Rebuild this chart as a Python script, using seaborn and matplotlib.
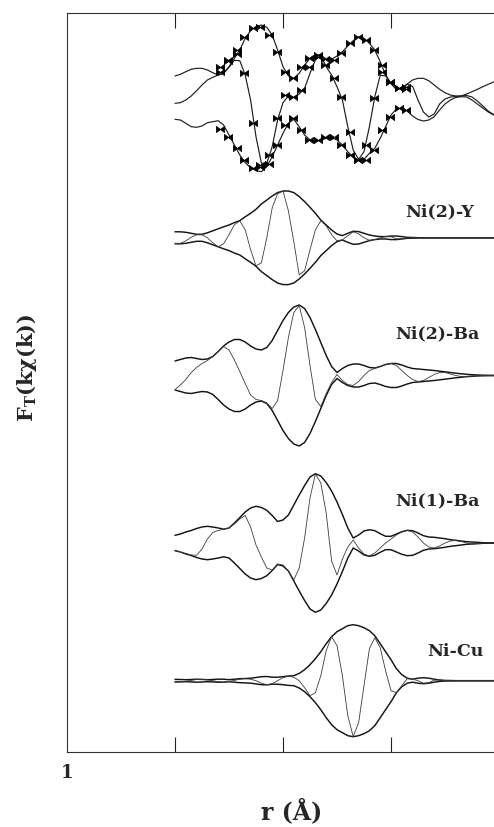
import numpy as np
import matplotlib
matplotlib.use("Agg")
import matplotlib.pyplot as plt
from matplotlib.path import Path
import seaborn as sns

# ---------------- data (r in Angstrom, amplitudes in arbitrary units) ----------------
r_grid = [2.00, 2.05, 2.10, 2.15, 2.20, 2.25, 2.30, 2.35, 2.40, 2.45,
          2.50, 2.55, 2.60, 2.65, 2.70, 2.75, 2.80, 2.85, 2.90, 2.95,
          3.00, 3.05, 3.10, 3.15, 3.20, 3.25, 3.30, 3.35, 3.40, 3.45,
          3.50, 3.55, 3.60, 3.65, 3.70, 3.75, 3.80, 3.85, 3.90, 3.95,
          4.00, 4.05, 4.10, 4.15, 4.20, 4.25, 4.30, 4.35, 4.40, 4.45,
          4.50, 4.55, 4.60, 4.65, 4.70, 4.75, 4.80, 4.85, 4.90, 4.95,
          5.00]

panel_names = ["", "Ni(2)-Y", "Ni(2)-Ba", "Ni(1)-Ba", "Ni-Cu"]
panel_offsets = [653.7, 514.2, 376.5, 209.0, 71.3]

# top panel (fit curves)
top_upper = [22.3, 24.0, 26.6, 29.0, 30.0, 30.0, 28.3, 25.6, 23.3, 25.0,
             31.6, 40.0, 48.3, 60.0, 67.6, 71.6, 73.3, 71.0, 63.3, 48.3,
             31.6, 22.3, 20.0, 25.0, 33.3, 40.0, 43.0, 43.6, 39.0, 39.0,
             42.3, 46.6, 52.3, 57.6, 61.6, 60.0, 55.0, 48.3, 36.6, 23.3,
             15.0, 9.0, 10.0, 14.3, 18.3, 20.0, 20.0, 17.6, 13.3, 9.0,
             5.6, 3.3, 2.3, 2.3, 4.3, 6.6, 9.0, 11.6, 14.0, 16.3,
             18.3]
top_middle = [-5.0, -4.4, -1.7, 2.3, 7.6, 13.3, 18.3, 21.0, 23.3, 25.0,
              31.0, 38.0, 37.6, 23.3, -1.7, -38.4, -65.0, -65.0, -48.4, -21.7,
              -4.4, 2.3, 1.0, 4.3, 10.0, 25.0, 38.3, 43.0, 31.6, 23.3,
              11.6, -1.7, -28.4, -51.7, -61.0, -53.4, -28.4, 1.6, 23.0, 22.5,
              14.5, 9.0, 10.0, 14.0, 12.0, -1.7, -13.7, -18.7, -15.7, -5.7,
              -0.7, 1.3, 1.8, 2.3, 2.8, 1.3, -2.7, -7.7, -12.7, -16.2,
              -18.7]
top_lower = [-21.0, -21.7, -25.0, -28.4, -29.0, -27.7, -24.4, -23.4, -22.4, -26.7,
             -36.7, -46.7, -56.7, -64.4, -69.4, -72.4, -73.4, -68.4, -58.4, -46.7,
             -35.0, -25.0, -21.0, -28.4, -36.7, -41.7, -43.4, -41.7, -40.0, -39.4,
             -41.7, -46.7, -53.4, -59.0, -61.7, -61.0, -55.0, -50.0, -40.0, -28.4,
             -16.7, -10.7, -9.7, -12.7, -17.7, -21.2, -22.7, -21.7, -18.4, -11.7,
             -5.7, -1.7, 0.8, 1.6, 1.3, -1.7, -5.7, -9.7, -13.7, -16.7,
             -18.7]

# top panel (experimental points)
r_points = [2.42, 2.49, 2.57, 2.64, 2.72, 2.79, 2.87, 2.94, 3.02, 3.09, 3.17, 3.24,
            3.32, 3.39, 3.47, 3.54, 3.62, 3.69, 3.77, 3.84, 3.92, 3.99, 4.07, 4.14]
pts_upper = [31.6, 38.3, 48.3, 61.6, 70.0, 71.6, 63.3, 46.6, 26.6, 20.0, 31.6, 40.0,
             43.3, 39.0, 38.3, 45.0, 55.0, 61.0, 58.3, 48.3, 33.3, 16.6, 10.0, 9.0]
pts_middle = [26.6, 37.0, 44.0, 25.0, -25.0, -66.7, -56.7, -20.0, 3.3, 1.0, 8.3, 31.6,
              41.6, 33.0, 20.0, 1.6, -33.4, -61.7, -46.7, 0.0, 26.6, 16.0, 10.0, 11.0]
pts_lower = [-31.0, -38.4, -49.4, -61.7, -70.0, -69.0, -66.0, -47.0, -26.7, -20.0, -31.7, -41.7,
             -41.7, -39.0, -39.0, -46.7, -56.7, -61.7, -61.7, -51.7, -31.7, -18.4, -10.0, -11.7]

# Ni(2)-Y
niy_env = [6.0, 6.0, 5.5, 4.5, 3.5, 3.5, 5.0, 7.0, 9.0, 11.0,
           12.8, 15.2, 17.2, 21.0, 24.5, 28.5, 33.8, 37.8, 41.8, 45.2,
           46.8, 46.8, 45.2, 41.2, 36.2, 30.5, 24.5, 17.8, 12.8, 7.8,
           3.8, 2.2, 4.5, 6.5, 6.2, 4.5, 2.8, 1.8, 1.2, 1.2,
           1.8, 1.8, 1.2, 0.5, 0.3, 0.1, 0.0, 0.0, 0.0, 0.0,
           0.0, 0.0, 0.0, 0.0, 0.0, 0.0, 0.0, 0.0, 0.0, 0.0,
           0.0]
niy_osc = [-5.5, -5.5, -3.0, 0.5, 3.0, 3.0, 0.0, -5.0, -9.0, -6.0,
           3.0, 13.0, 17.0, 8.0, -12.0, -28.0, -25.0, 0.0, 30.0, 44.0,
           46.8, 27.0, -4.0, -37.0, -33.0, -12.0, 8.0, 17.0, 12.0, 3.0,
           -3.0, -2.0, 2.0, 6.0, 4.0, 0.0, -2.5, -1.8, 0.0, 1.2,
           1.0, -1.0, -1.0, 0.0, 0.0, 0.0, 0.0, 0.0, 0.0, 0.0,
           0.0, 0.0, 0.0, 0.0, 0.0, 0.0, 0.0, 0.0, 0.0, 0.0,
           0.0]

# Ni(2)-Ba
ni2ba_env = [14.5, 16.0, 17.5, 18.0, 17.0, 16.0, 16.5, 19.0, 24.0, 29.5,
             33.5, 36.0, 36.0, 33.5, 29.5, 26.5, 25.5, 28.0, 35.0, 45.0,
             55.0, 63.0, 68.5, 70.5, 67.0, 58.0, 46.0, 33.0, 20.0, 9.0,
             3.0, 7.0, 10.0, 11.5, 11.5, 10.0, 8.0, 7.5, 9.0, 11.0,
             12.0, 12.0, 10.5, 8.5, 7.0, 6.5, 6.0, 5.5, 5.0, 4.3,
             3.7, 3.0, 2.3, 1.7, 1.2, 0.8, 0.5, 0.3, 0.2, 0.1,
             0.0]
ni2ba_osc = [-14.0, -9.5, -4.0, 3.0, 8.0, 12.0, 15.0, 19.0, 24.0, 29.0,
             25.5, 15.5, 4.0, -8.0, -19.5, -24.0, -25.0, -27.5, -33.0, -25.0,
             5.0, 38.0, 63.0, 70.0, 48.0, 10.0, -24.0, -31.0, -18.0, -7.0,
             1.0, -5.0, -9.0, -10.0, -6.0, 0.0, 5.0, 7.0, 9.0, 11.0,
             12.0, 10.0, 5.0, 0.0, -4.0, -6.0, -5.0, -2.0, 1.0, 3.0,
             3.0, 1.5, 0.0, -1.0, -1.0, -0.5, 0.0, 0.0, 0.0, 0.0,
             0.0]

# Ni(1)-Ba
ni1ba_env = [7.7, 9.0, 11.0, 12.5, 14.5, 16.0, 16.7, 16.0, 15.0, 13.8,
             15.0, 20.0, 25.5, 31.0, 35.0, 36.7, 35.5, 32.7, 27.5, 21.5,
             23.0, 28.0, 38.0, 48.0, 57.5, 66.0, 69.3, 67.0, 60.5, 52.0,
             41.0, 28.5, 15.0, 5.0, 8.0, 12.0, 13.3, 12.3, 9.3, 6.7,
             6.7, 9.0, 11.3, 12.7, 12.3, 10.0, 7.3, 6.0, 5.7, 5.0,
             4.3, 3.3, 2.7, 2.0, 1.3, 1.0, 0.7, 0.3, 0.2, 0.1,
             0.0]
ni1ba_osc = [-7.3, -9.0, -10.5, -12.0, -12.3, -6.0, 4.0, 10.5, 12.5, 13.7,
             15.0, 19.0, 24.0, 27.5, 16.0, -2.0, -14.0, -25.0, -27.0, -21.0,
             -22.0, -28.0, -37.0, -25.0, 5.0, 45.0, 69.0, 60.0, 30.0, -18.0,
             -32.0, -16.0, -4.0, 3.0, -5.0, -11.0, -13.0, -10.0, -5.0, 0.0,
             4.0, 8.0, 11.0, 12.5, 11.0, 6.0, 0.0, -4.0, -5.0, -3.0,
             0.0, 2.0, 2.5, 1.5, 0.0, -0.8, -0.6, 0.0, 0.0, 0.0,
             0.0]

# Ni-Cu
nicu_env = [1.3, 1.2, 1.0, 1.2, 1.5, 1.3, 1.0, 1.2, 1.5, 1.5,
            1.0, 1.5, 2.0, 2.2, 2.5, 3.2, 4.0, 4.2, 3.5, 3.5,
            4.0, 4.7, 5.0, 7.3, 11.0, 16.0, 22.0, 29.0, 37.0, 44.0,
            49.0, 52.0, 55.0, 56.0, 55.0, 53.0, 50.0, 45.0, 37.0, 29.0,
            21.0, 12.0, 6.0, 2.5, 1.5, 2.5, 3.0, 2.5, 1.5, 0.7,
            0.3, 0.2, 0.0, 0.0, 0.0, 0.0, 0.0, 0.0, 0.0, 0.0,
            0.0]
nicu_osc = [-1.2, -1.0, -0.5, 0.3, 1.2, 1.3, 0.8, 0.0, -1.0, -1.5,
            -0.8, 0.3, 1.5, 2.0, 1.5, 0.0, -2.5, -4.0, -3.0, 0.0,
            3.0, 4.5, 3.5, 0.0, -7.0, -15.0, -12.0, 5.0, 30.0, 44.0,
            35.0, 5.0, -35.0, -56.0, -42.0, -5.0, 32.0, 43.0, 33.0, 10.0,
            -10.0, -12.0, -5.0, 2.0, 1.5, 0.0, -2.5, -2.0, 0.5, 0.7,
            0.0, 0.0, 0.0, 0.0, 0.0, 0.0, 0.0, 0.0, 0.0, 0.0,
            0.0]

x_tick_values = [1, 5]
x_tick_labels = ["1", "5"]
x_minor_ticks = [2, 3, 4]

# ---------------- drawing ----------------
sns.set_style("white")
plt.rcParams["font.family"] = ["DejaVu Serif", "DejaVu Sans"]
plt.rcParams["mathtext.fontset"] = "dejavuserif"

fig = plt.figure(figsize=(4.94, 8.27), dpi=100)
ax = fig.add_axes([67 / 494, 75 / 827, 432 / 494, 739 / 827])

ENV_C, OSC_C = "#141414", "#3c3c3c"


def line(y, base, lw, color):
    sns.lineplot(x=r_grid, y=base + np.asarray(y, dtype=float), ax=ax,
                 color=color, lw=lw, sort=False, estimator=None)


# top panel
b0 = panel_offsets[0]
for curve in (top_upper, top_middle, top_lower):
    line(curve, b0, 0.85, "#1e1e1e")

bowtie = Path([(-1, 0.75), (-1, -0.75), (1, 0.75), (1, -0.75), (-1, 0.75)],
              [Path.MOVETO, Path.LINETO, Path.LINETO, Path.LINETO, Path.CLOSEPOLY])
for pts in (pts_upper, pts_middle, pts_lower):
    sns.scatterplot(x=r_points, y=b0 + np.asarray(pts), ax=ax, marker=bowtie,
                    s=34, color="k", edgecolor="k", linewidth=0.6, zorder=5)

# simulated panels
sim_panels = [(niy_env, niy_osc), (ni2ba_env, ni2ba_osc),
              (ni1ba_env, ni1ba_osc), (nicu_env, nicu_osc)]
for (env, osc), base in zip(sim_panels, panel_offsets[1:]):
    env = np.asarray(env, dtype=float)
    line(env, base, 1.05, ENV_C)
    line(-env, base, 1.05, ENV_C)
    line(osc, base, 0.6, OSC_C)

label_pos = [(4.45, 540), (4.43, 418), (4.43, 251), (4.60, 101)]
for name, (lx, ly) in zip(panel_names[1:], label_pos):
    ax.text(lx, ly, name, ha="center", va="center", fontsize=12.5,
            fontweight="bold", family="DejaVu Serif")

ax.set_xlim(1, 5)
ax.set_ylim(0, 739)
ax.set_yticks([])
ax.set_xticks(x_tick_values)
ax.set_xticklabels(x_tick_labels, fontsize=13, fontweight="bold")
ax.set_xticks(x_minor_ticks, minor=True)
ax.tick_params(axis="x", which="major", length=0, pad=9)
ax.tick_params(axis="x", which="minor", direction="in", length=10.5, width=0.8,
               top=True, bottom=True, color="#222222")

for s in ("left", "top", "bottom", "right"):
    ax.spines[s].set_linewidth(0.8)
    ax.spines[s].set_color("#333333")

ax.set_xlabel("r (Å)", fontsize=17, fontweight="bold")
ax.xaxis.set_label_coords((292 - 67) / 432, (752 - 811) / 739)
ax.xaxis.label.set_va("center")

ax.set_ylabel(r"F$_{\mathbf{T}}$(kχ(k))", fontsize=15, fontweight="bold")
ax.yaxis.set_label_coords((27 - 67) / 432, (752 - 368) / 739)
ax.yaxis.label.set_va("center")

fig.savefig("out.png", dpi=100, facecolor="white")
